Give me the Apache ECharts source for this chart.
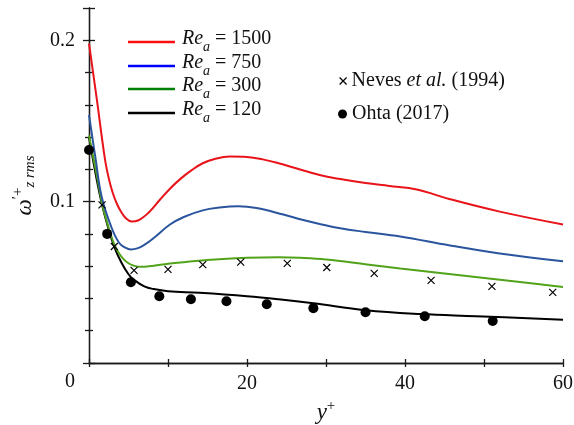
<!DOCTYPE html>
<html>
<head>
<meta charset="utf-8">
<script src="https://cdn.jsdelivr.net/npm/echarts@6/dist/echarts.min.js"></script>
<style>
html,body{margin:0;padding:0;background:#fff;}
#chart{width:574px;height:425px;}
</style>
</head>
<body>
<div id="chart"></div>
<script>
// ---- data ----
const xRe1500 = [0, 1, 2, 2.5, 3, 3.5, 4, 4.7, 5.4, 6.2, 7.5, 9, 10.25, 11.5, 13, 14.4, 16, 17.8, 20, 22, 24, 26.3, 29.2, 31.8, 35, 38, 41.5, 45.7, 52, 60];
const yRe1500 = [0.198, 0.163, 0.127, 0.1145, 0.1055, 0.0990, 0.0942, 0.0895, 0.0877, 0.0883, 0.0930, 0.1013, 0.1080, 0.1138, 0.1195, 0.1238, 0.1266, 0.1280, 0.1277, 0.1262, 0.1238, 0.1205, 0.1165, 0.1140, 0.1115, 0.1097, 0.1075, 0.1015, 0.0938, 0.0858];

const xRe750 = [0, 0.85, 1.6, 2.8, 3.8, 4.6, 5.3, 6.2, 7, 8.2, 10.25, 12, 14.4, 16.5, 18.9, 21.2, 24.6, 27, 29.2, 31.8, 35, 39.4, 45.7, 52, 60];
const yRe750 = [0.1537, 0.126, 0.103, 0.0846, 0.0745, 0.0715, 0.0704, 0.0712, 0.0732, 0.0775, 0.0858, 0.0905, 0.0946, 0.0963, 0.0971, 0.0960, 0.0920, 0.0888, 0.0862, 0.0835, 0.0812, 0.0784, 0.0728, 0.0679, 0.0630];

const xRe300 = [0, 1, 1.65, 2.3, 3.2, 3.8, 4.4, 5, 5.6, 6.3, 7, 8.2, 10, 12, 16, 20, 24, 26.7, 30, 35.2, 39.4, 47.8, 54, 60];
const yRe300 = [0.141, 0.116, 0.099, 0.087, 0.0735, 0.0680, 0.0642, 0.0618, 0.0604, 0.0597, 0.0597, 0.0603, 0.0615, 0.0625, 0.0642, 0.0652, 0.0655, 0.0652, 0.0642, 0.0611, 0.0586, 0.0539, 0.0505, 0.0471];

const xRe120 = [0, 1, 1.65, 2.3, 3.2, 4.1, 5, 5.7, 7, 8.2, 10, 14, 20, 24, 28.4, 35, 42, 49, 60];
const yRe120 = [0.140, 0.113, 0.098, 0.086, 0.072, 0.0623, 0.0550, 0.0515, 0.0475, 0.0458, 0.0445, 0.0435, 0.0414, 0.0395, 0.0370, 0.0327, 0.0303, 0.0290, 0.0268];

const xNeves = [1.65, 3.2, 5.7, 10.0, 14.4, 19.2, 25.1, 30.1, 36.1, 43.3, 51.0, 58.7];
const yNeves = [0.098, 0.0722, 0.0574, 0.0580, 0.0610, 0.0625, 0.0617, 0.0592, 0.0555, 0.0512, 0.0475, 0.0438];

const xOhta = [0.0, 2.3, 5.3, 8.9, 12.9, 17.4, 22.5, 28.4, 35.0, 42.5, 51.1];
const yOhta = [0.132, 0.080, 0.050, 0.0414, 0.0395, 0.0383, 0.0364, 0.0340, 0.0315, 0.0290, 0.0260];

const reNames = ['1500', '750', '300', '120'];
const xTickLabels = [20, 40, 60];
const yTickLabels = [0.1, 0.2];

// ---- styling ----
const FONT = 'Liberation Serif';
const curveColors = ['#e8141a', '#2a559e', '#52a31c', '#000000'];
const legendColors = ['#ff1010', '#0000ff', '#008000', '#000000'];
const legendTops = [29, 53, 76, 100];

function zip(xs, ys) { return xs.map((x, i) => [x, ys[i]]); }
function near(v, list) { return list.find(t => Math.abs(v - t) < 1e-9); }

const curveData = [zip(xRe1500, yRe1500), zip(xRe750, yRe750), zip(xRe300, yRe300), zip(xRe120, yRe120)];

const series = reNames.map((n, i) => ({
  name: n, type: 'line', data: curveData[i], showSymbol: false, smooth: 0.4,
  lineStyle: { color: curveColors[i], width: 2 }, itemStyle: { color: curveColors[i] },
  z: 3 + (3 - i)
}));
series.push({
  name: 'Neves', type: 'scatter', data: zip(xNeves, yNeves),
  symbol: 'path://M0,0L10,10M10,0L0,10', symbolSize: 7, clip: false,
  itemStyle: { color: '#000', borderColor: '#000', borderWidth: 1.2, opacity: 1 }, z: 10
});
series.push({
  name: 'Ohta', type: 'scatter', data: zip(xOhta, yOhta),
  symbol: 'circle', symbolSize: 10, clip: false,
  itemStyle: { color: '#000', opacity: 1 }, z: 10
});

const reRich = {
  i: { fontFamily: FONT, fontSize: 20, fontStyle: 'italic', lineHeight: 22, padding: [0, 0, 6, 2], color: '#111' },
  n: { fontFamily: FONT, fontSize: 20, lineHeight: 22, padding: [0, 0, 6, 0], color: '#111' },
  s: { fontFamily: FONT, fontSize: 14, fontStyle: 'italic', lineHeight: 14, padding: [10, 0, 0, 0], color: '#111' }
};

const legends = reNames.map((n, i) => ({
  data: [{ name: n, itemStyle: { color: legendColors[i] } }],
  left: 128, top: legendTops[i], padding: 0,
  icon: 'rect', itemWidth: 47, itemHeight: 2.5,
  selectedMode: false,
  formatter: name => '{i|Re}{s|a}{n| = ' + name + '}',
  textStyle: { rich: reRich }
}));
const lgRich = {
  t: { fontFamily: FONT, fontSize: 20, lineHeight: 22, color: '#111' },
  it: { fontFamily: FONT, fontSize: 20, fontStyle: 'italic', lineHeight: 22, color: '#111' }
};
legends.push({
  data: [{ name: 'Neves', icon: 'path://M0,0L10,10M10,0L0,10', itemStyle: { color: '#000', borderColor: '#000', borderWidth: 1.2, opacity: 1 } }],
  left: 339, top: 71, padding: 0, itemWidth: 7, itemHeight: 7, selectedMode: false,
  formatter: () => '{t|Neves }{it|et al.}{t| (1994)}',
  textStyle: { rich: lgRich }
});
legends.push({
  data: [{ name: 'Ohta', icon: 'circle', itemStyle: { color: '#000', opacity: 1 } }],
  left: 338, top: 104, padding: 0, itemWidth: 9, itemHeight: 9, selectedMode: false,
  formatter: () => '{t|Ohta (2017)}',
  textStyle: { rich: lgRich }
});

const axisLineStyle = { color: '#1a1a1a', width: 1.3 };
const labelStyle = { fontFamily: FONT, fontSize: 20, color: '#111' };

const option = {
  animation: false,
  backgroundColor: '#fff',
  grid: { left: 89, right: 11, top: 8, bottom: 62, containLabel: false, outerBoundsMode: 'none' },
  legend: legends,
  xAxis: [{
    type: 'value', min: 0, max: 60, interval: 10, position: 'bottom',
    axisLine: { show: true, lineStyle: axisLineStyle },
    axisTick: { show: true, inside: true, length: 4, lineStyle: axisLineStyle },
    splitLine: { show: false },
    axisLabel: { ...labelStyle, margin: 11, formatter: v => near(v, xTickLabels) !== undefined ? String(v) : '' },
    name: '{y|y}{p|+}', nameLocation: 'middle', nameGap: 27,
    nameTextStyle: { rich: {
      y: { fontFamily: FONT, fontSize: 23, fontStyle: 'italic', lineHeight: 24, color: '#111' },
      p: { fontFamily: FONT, fontSize: 15, lineHeight: 15, padding: [0, 0, 14, 0], color: '#111' }
    } }
  }, {
    type: 'value', min: 0, max: 60, interval: 10, position: 'top',
    axisLine: { show: true, lineStyle: axisLineStyle },
    axisTick: { show: true, inside: true, length: 4, lineStyle: axisLineStyle },
    axisLabel: { show: false }, splitLine: { show: false }
  }],
  yAxis: [{
    type: 'value', min: 0, max: 0.22, interval: 0.1, position: 'left',
    axisLine: { show: true, lineStyle: axisLineStyle },
    axisTick: { show: true, inside: true, length: 6, lineStyle: axisLineStyle },
    minorTick: { show: true, splitNumber: 5, length: 4, lineStyle: axisLineStyle },
    splitLine: { show: false },
    axisLabel: { ...labelStyle, margin: 14, formatter: v => { const t = near(v, yTickLabels); return t !== undefined ? t.toFixed(1) : ''; } },
    name: '{w|ω}{p|′+}{s|z rms}', nameLocation: 'middle', nameGap: 48, nameRotate: 90,
    nameTextStyle: { rich: {
      w: { fontFamily: FONT, fontSize: 23, fontStyle: 'italic', lineHeight: 24, color: '#111' },
      p: { fontFamily: FONT, fontSize: 15, lineHeight: 15, padding: [0, 0, 14, 0], color: '#111' },
      s: { fontFamily: FONT, fontSize: 15, fontStyle: 'italic', lineHeight: 15, padding: [10, 0, 0, 0], color: '#111' }
    } }
  }, {
    type: 'value', min: 0, max: 0.22, interval: 0.1, position: 'right',
    axisLine: { show: true, lineStyle: axisLineStyle },
    axisTick: { show: true, inside: true, length: 6, lineStyle: axisLineStyle },
    minorTick: { show: true, splitNumber: 5, length: 4, lineStyle: axisLineStyle },
    axisLabel: { show: false }, splitLine: { show: false }
  }],
  graphic: [{
    type: 'text', x: 70, y: 382,
    style: { text: '0', fontFamily: FONT, fontSize: 20, fill: '#111', align: 'center', verticalAlign: 'middle' }
  }],
  series: series
};

const chart = echarts.init(document.getElementById('chart'), null, { renderer: 'canvas' });
chart.setOption(option);
</script>
</body>
</html>
